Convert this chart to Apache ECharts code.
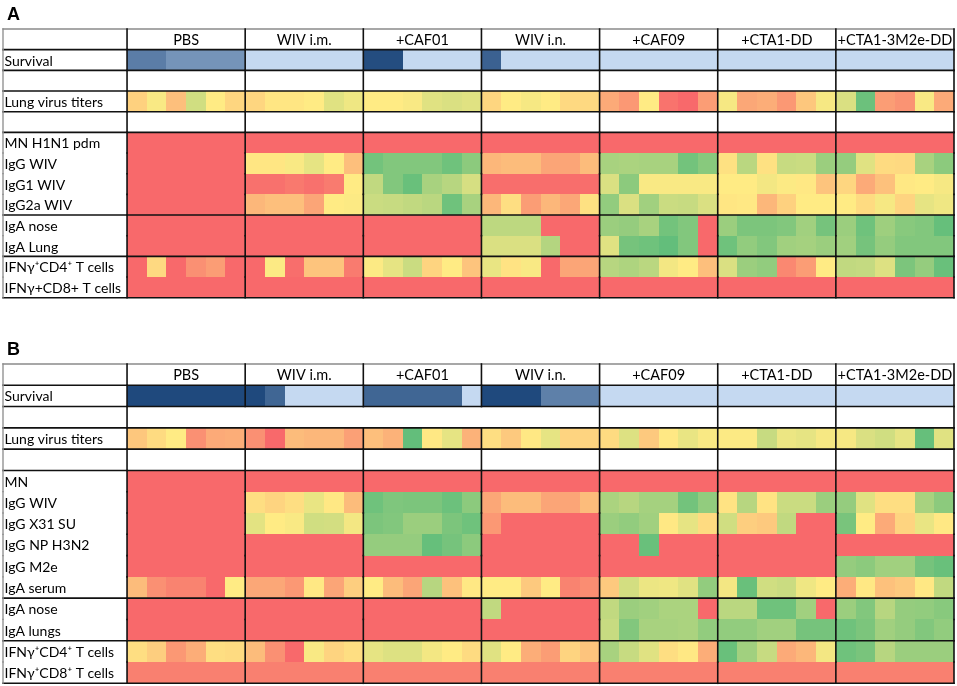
<!DOCTYPE html>
<html><head><meta charset="utf-8">
<script src="https://cdn.jsdelivr.net/npm/echarts@6/dist/echarts.min.js"></script>
<style>html,body{margin:0;padding:0;background:#fff}#c{width:957px;height:686px}</style>
</head><body><div id="c"></div>
<script>
// ---------- categories ----------
const groups = ['PBS', 'WIV i.m.', '+CAF01', 'WIV i.n.', '+CAF09', '+CTA1-DD', '+CTA1-3M2e-DD'];
const micePerGroup = 6;

// ---------- Panel A (values: survival 0=light..1=dark; others 0=red,0.5=yellow,1=green) ----------
const labelsA = ['Survival', '', 'Lung virus titers', '', 'MN H1N1 pdm', 'IgG WIV', 'IgG1 WIV', 'IgG2a WIV',
  'IgA nose', 'IgA Lung', 'IFNγ⁺CD4⁺ T cells', 'IFNγ+CD8+ T cells'];
const survivalA = [0.64,0.64,0.48,0.48,0.48,0.48, 0,0,0,0,0,0, 0.97,0.97,0,0,0,0, 0.83,0,0,0,0,0, 0,0,0,0,0,0, 0,0,0,0,0,0, 0,0,0,0,0,0];
const titersA = [0.40,0.52,0.33,0.65,0.50,0.42, 0.42,0.48,0.48,0.50,0.60,0.55, 0.50,0.50,0.52,0.60,0.62,0.60, 0.42,0.50,0.53,0.50,0.43,0.43, 0.25,0.18,0.50,0.04,0.00,0.20, 0.53,0.24,0.26,0.18,0.36,0.53, 0.62,0.97,0.20,0.16,0.52,0.25];
const mnA = [0,0,0,0,0,0, 0,0,0,0,0,0, 0,0,0,0,0,0, 0,0,0,0,0,0, 0,0,0,0,0,0, 0,0,0,0,0,0, 0,0,0,0,0,0];
const iggWivA = [0,0,0,0,0,0, 0.48,0.48,0.52,0.58,0.50,0.33, 0.95,0.90,0.90,0.90,0.96,0.87, 0.30,0.32,0.32,0.23,0.23,0.32, 0.78,0.77,0.78,0.78,0.95,0.88, 0.46,0.72,0.46,0.68,0.67,0.82, 0.84,0.60,0.44,0.43,0.78,0.87];
const igg1WivA = [0,0,0,0,0,0, 0.03,0.03,0.06,0.03,0.07,0.50, 0.70,0.90,0.98,0.78,0.73,0.63, 0.02,0.02,0.02,0.02,0.02,0.02, 0.62,0.87,0.52,0.52,0.52,0.52, 0.50,0.50,0.54,0.51,0.49,0.35, 0.42,0.25,0.34,0.49,0.50,0.53];
const igg2aWivA = [0,0,0,0,0,0, 0.30,0.33,0.33,0.23,0.50,0.51, 0.67,0.68,0.70,0.72,0.96,0.78, 0.30,0.45,0.20,0.30,0.24,0.46, 0.85,0.62,0.80,0.67,0.68,0.62, 0.48,0.49,0.30,0.40,0.50,0.50, 0.50,0.44,0.53,0.41,0.58,0.55];
const igaNoseA = [0,0,0,0,0,0, 0,0,0,0,0,0, 0,0,0,0,0,0, 0.71,0.71,0.71,0,0,0, 0.82,0.84,0.78,0.95,0.90,0, 0.82,0.92,0.92,0.90,0.80,0.94, 0.82,0.96,0.81,0.88,0.90,0.99];
const igaLungA = [0,0,0,0,0,0, 0,0,0,0,0,0, 0,0,0,0,0,0, 0.62,0.62,0.62,0.74,0,0, 0.60,0.94,0.96,1.00,0.90,0, 0.96,0.85,0.90,0.80,0.79,0.82, 0.80,0.94,0.84,0.90,0.90,0.90];
const cd4A = [0,0.43,0,0.15,0.20,0, 0,0.51,0.02,0.35,0.35,0.07, 0.51,0.58,0.67,0.41,0.50,0.35, 0.57,0.47,0.52,0,0.23,0.23, 0.73,0.76,0.72,0.54,0.50,0.33, 0.62,0.82,0.85,0.12,0.20,0.50, 0.70,0.69,0.61,0.92,0.84,0.98];
const cd8A = [0,0,0,0,0,0, 0,0,0,0,0,0, 0,0,0,0,0,0, 0,0,0,0,0,0, 0,0,0,0,0,0, 0,0,0,0,0,0, 0,0,0,0,0,0];
const valuesA = [survivalA, null, titersA, null, mnA, iggWivA, igg1WivA, igg2aWivA, igaNoseA, igaLungA, cd4A, cd8A];
const hLinesA = [0, 1, 2, 3, 4, 5, 9, 11, 13];

// ---------- Panel B ----------
const labelsB = ['Survival', '', 'Lung virus titers', '', 'MN', 'IgG WIV', 'IgG X31 SU', 'IgG NP H3N2', 'IgG M2e',
  'IgA serum', 'IgA nose', 'IgA lungs', 'IFNγ⁺CD4⁺ T cells', 'IFNγ⁺CD8⁺ T cells'];
const survivalB = [1,1,1,1,1,1, 1,0.8,0,0,0,0, 0.8,0.8,0.8,0.8,0.8,0, 1,1,1,0.62,0.62,0.62, 0,0,0,0,0,0, 0,0,0,0,0,0, 0,0,0,0,0,0];
const titersB = [0.36,0.44,0.50,0.15,0.25,0.26, 0.15,0.00,0.32,0.30,0.30,0.21, 0.33,0.28,1.00,0.49,0.58,0.28, 0.45,0.37,0.49,0.58,0.41,0.41, 0.44,0.61,0.37,0.49,0.57,0.52, 0.51,0.51,0.68,0.56,0.58,0.53, 0.53,0.62,0.65,0.58,0.99,0.60];
const mnB = [0,0,0,0,0,0, 0,0,0,0,0,0, 0,0,0,0,0,0, 0,0,0,0,0,0, 0,0,0,0,0,0, 0,0,0,0,0,0, 0,0,0,0,0,0];
const iggWivB = [0,0,0,0,0,0, 0.45,0.41,0.45,0.57,0.49,0.32, 0.96,0.91,0.92,0.92,0.97,0.87, 0.24,0.32,0.32,0.23,0.23,0.32, 0.77,0.73,0.79,0.79,0.95,0.85, 0.47,0.73,0.47,0.67,0.67,0.82, 0.84,0.60,0.45,0.45,0.78,0.87];
const iggX31B = [0,0,0,0,0,0, 0.59,0.50,0.52,0.65,0.64,0.54, 0.92,0.90,0.82,0.82,0.92,0.96, 0.18,0,0,0,0,0, 0.82,0.85,0.80,0.49,0.58,0.44, 0.65,0.39,0.37,0.70,0,0, 0.93,0.50,0.25,0.41,0.57,0.49];
const iggNpB = [0,0,0,0,0,0, 0,0,0,0,0,0, 0.84,0.84,0.84,0.99,0.94,0.87, 0,0,0,0,0,0, 0,0,0.98,0,0,0, 0,0,0,0,0,0, 0,0,0,0,0,0];
const iggM2eB = [0,0,0,0,0,0, 0,0,0,0,0,0, 0,0,0,0,0,0, 0,0,0,0,0,0, 0,0,0,0,0,0, 0,0,0,0,0,0, 0.84,0.87,0.80,0.80,0.94,0.98];
const igaSerumB = [0.32,0.15,0.10,0.10,0,0.50, 0.24,0.24,0.18,0.49,0.23,0.39, 0.50,0.32,0.23,0.73,0.34,0.49, 0.50,0.50,0.37,0.50,0.10,0.14, 0.37,0.64,0.56,0.55,0.60,0.85, 0.54,0.98,0.65,0.67,0.55,0.50, 0.26,0.49,0.34,0.37,0.49,0.70];
const igaNoseB = [0,0,0,0,0,0, 0,0,0,0,0,0, 0,0,0,0,0,0, 0.70,0,0,0,0,0, 0.70,0.82,0.80,0.77,0.77,0, 0.72,0.72,0.96,0.96,0.80,0, 0.82,0.90,0.73,0.84,0.85,0.88];
const igaLungsB = [0,0,0,0,0,0, 0,0,0,0,0,0, 0,0,0,0,0,0, 0,0,0,0,0,0, 0.68,0.90,0.78,0.78,0.77,0.85, 0.85,0.85,0.80,0.80,0.94,0.94, 0.96,0.92,0.80,0.84,0.90,0.85];
const cd4B = [0.45,0.39,0.18,0.26,0.45,0.44, 0.32,0.15,0,0.52,0.41,0.45, 0.58,0.61,0.61,0.54,0.50,0.44, 0.60,0.50,0.26,0.20,0.41,0.35, 0.78,0.68,0.60,0.45,0.49,0.26, 0.98,0.80,0.68,0.25,0.30,0.54, 0.96,0.93,0.73,0.82,0.82,0.82];
const cd8B = [0.09,0.09,0.09,0.09,0.09,0.09, 0.09,0.09,0.09,0.09,0.09,0.09, 0.09,0.09,0.09,0.09,0.09,0.09, 0.09,0.09,0.09,0.09,0.09,0.09, 0.09,0.09,0.09,0.09,0.09,0.09, 0.09,0.09,0.09,0.09,0.09,0.09, 0.09,0.09,0.09,0.09,0.09,0.09];
const valuesB = [survivalB, null, titersB, null, mnB, iggWivB, iggX31B, iggNpB, iggM2eB, igaSerumB, igaNoseB, igaLungsB, cd4B, cd8B];
const hLinesB = [0, 1, 2, 3, 4, 5, 11, 13, 15];
const mergedB = {2: [6, 12, 18]}; // blank row without inner group separators

// ---------- build ----------
const nCols = groups.length * micePerGroup;
const LABEL_W = 6.3; // label column width in cell units
const FONT = '14px Lato, "Open Sans", sans-serif';

const chart = echarts.init(document.getElementById('c'), null, {renderer: 'canvas'});

function cellRender(params, api) {
  const c = api.value(0), r = api.value(1);
  const p0 = api.coord([c, r]), p1 = api.coord([c + 1, r + 1]);
  const x0 = Math.round(Math.min(p0[0], p1[0])), x1 = Math.round(Math.max(p0[0], p1[0]));
  const y0 = Math.round(Math.min(p0[1], p1[1])), y1 = Math.round(Math.max(p0[1], p1[1]));
  return {type: 'rect', shape: {x: x0, y: y0, width: x1 - x0, height: y1 - y0},
    style: {fill: api.visual('color')}};
}

const series = [], visualMaps = [], survIdx = [], measIdx = [];
function buildPanel(pi, labels, values, hLines, merged) {
  const nRows = labels.length + 1;
  const surv = [], meas = [];
  values.forEach((arr, i) => {
    if (!arr) return;
    arr.forEach((v, c) => (i === 0 ? surv : meas).push([c, i + 1, v]));
  });
  survIdx.push(series.length);
  series.push({type: 'custom', xAxisIndex: pi, yAxisIndex: pi, renderItem: cellRender, data: surv, encode: {x: 0, y: 1}, z: 1});
  measIdx.push(series.length);
  series.push({type: 'custom', xAxisIndex: pi, yAxisIndex: pi, renderItem: cellRender, data: meas, encode: {x: 0, y: 1}, z: 1});

  // borders
  const segs = [];
  hLines.forEach(y => segs.push([-LABEL_W, y, nCols, y, (y === 0 ? 1 : 0)]));
  const xs = [-LABEL_W, 0];
  for (let g = 1; g <= groups.length; g++) xs.push(g * micePerGroup);
  for (let r = 0; r < nRows; r++) {
    xs.forEach(x => {
      if (merged && merged[r] && merged[r].indexOf(x) >= 0) return;
      segs.push([x, r, x, r + 1, (x === -LABEL_W ? 1 : 0)]);
    });
  }
  series.push({type: 'custom', xAxisIndex: pi, yAxisIndex: pi, data: segs, encode: {x: [0, 2], y: [1, 3]}, z: 5,
    renderItem: (p, api) => {
      const a = api.coord([api.value(0), api.value(1)]), b = api.coord([api.value(2), api.value(3)]);
      const outer = api.value(4) === 1;
      return {type: 'line', shape: {x1: a[0], y1: a[1], x2: b[0], y2: b[1]},
        style: {stroke: outer ? '#8a8a8a' : '#111', lineWidth: outer ? 1.3 : 1.6, lineCap: 'square'}};
    }});

  // header text
  series.push({type: 'custom', xAxisIndex: pi, yAxisIndex: pi, z: 6,
    data: groups.map((g, i) => [i * micePerGroup, (i + 1) * micePerGroup, i]),
    encode: {x: [0, 1]},
    renderItem: (p, api) => {
      const a = api.coord([api.value(0), 0]), b = api.coord([api.value(1), 1]);
      return {type: 'text', x: (a[0] + b[0]) / 2, y: (a[1] + b[1]) / 2 + 1,
        style: {text: groups[api.value(2)], font: '14.5px Lato, "Open Sans", sans-serif', fill: '#000', align: 'center', verticalAlign: 'middle'}};
    }});

  // row labels
  series.push({type: 'custom', xAxisIndex: pi, yAxisIndex: pi, z: 6,
    data: labels.map((l, i) => [i + 1, i]),
    encode: {y: 0},
    renderItem: (p, api) => {
      const a = api.coord([-LABEL_W, api.value(0)]), b = api.coord([-LABEL_W, api.value(0) + 1]);
      return {type: 'text', x: a[0] + 1.5, y: (a[1] + b[1]) / 2 + 1,
        style: {text: labels[api.value(1)], font: FONT, fill: '#000', align: 'left', verticalAlign: 'middle'}};
    }});
  return nRows;
}

const nA = buildPanel(0, labelsA, valuesA, hLinesA, null);
const nB = buildPanel(1, labelsB, valuesB, hLinesB, mergedB);

visualMaps.push({type: 'continuous', show: false, seriesIndex: survIdx, dimension: 2, min: 0, max: 1,
  inRange: {color: ['#C5D9F1', '#1F497D']}});
visualMaps.push({type: 'continuous', show: false, seriesIndex: measIdx, dimension: 2, min: 0, max: 1,
  inRange: {color: ['#F8696B', '#FFEB84', '#63BE7B']}});

chart.setOption({
  animation: false,
  backgroundColor: '#fff',
  title: [
    {text: 'A', left: 7, top: 6, padding: 0, textStyle: {fontSize: 18, fontWeight: 'bold', fontFamily: '"Liberation Sans", Arial', color: '#000'}},
    {text: 'B', left: 7, top: 341, padding: 0, textStyle: {fontSize: 18, fontWeight: 'bold', fontFamily: '"Liberation Sans", Arial', color: '#000'}}
  ],
  grid: [
    {left: 3, right: 3, top: 29, height: 268.7},
    {left: 3, right: 3, top: 364, height: 319.3}
  ],
  xAxis: [
    {gridIndex: 0, type: 'value', min: -LABEL_W, max: nCols, show: false},
    {gridIndex: 1, type: 'value', min: -LABEL_W, max: nCols, show: false}
  ],
  yAxis: [
    {gridIndex: 0, type: 'value', min: 0, max: nA, inverse: true, show: false},
    {gridIndex: 1, type: 'value', min: 0, max: nB, inverse: true, show: false}
  ],
  visualMap: visualMaps,
  series: series
});
</script>
</body></html>
